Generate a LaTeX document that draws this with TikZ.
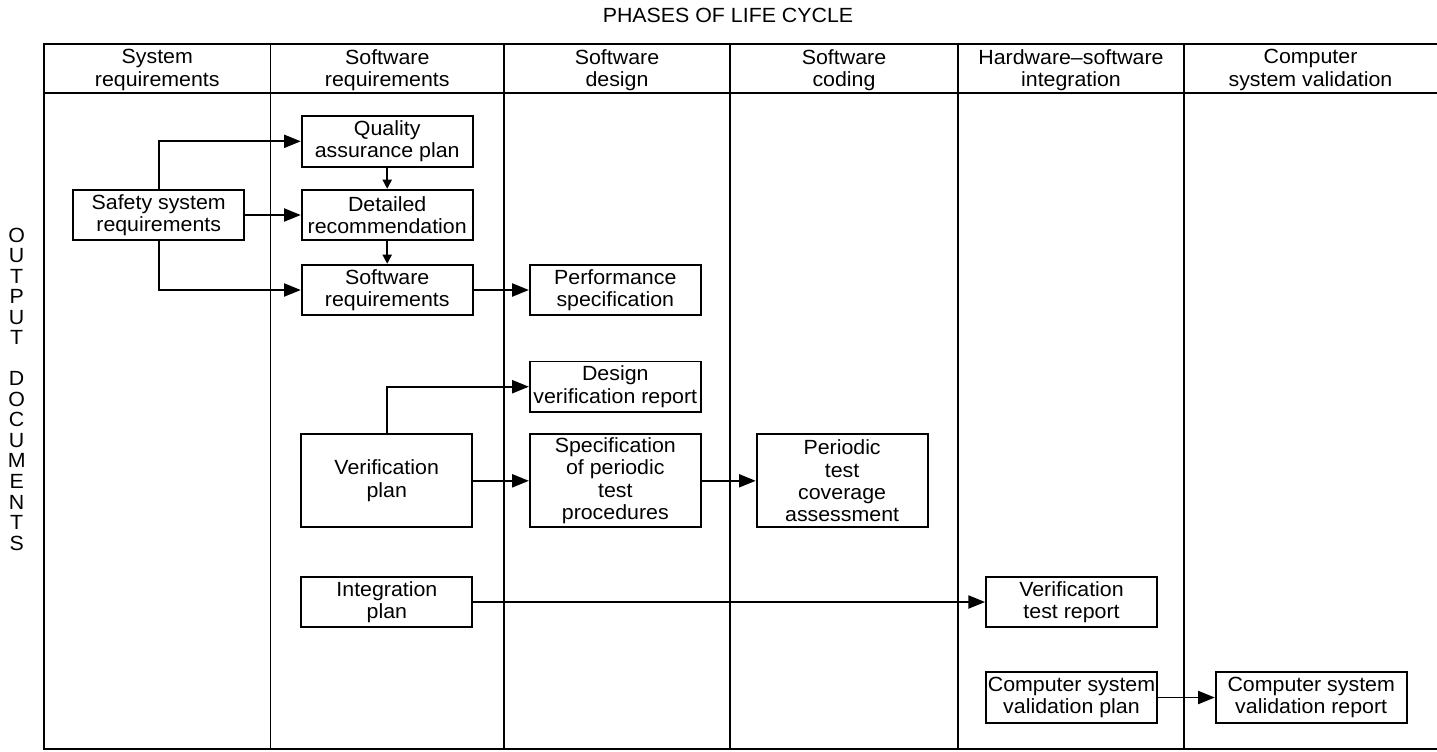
\documentclass[tikz,border=0pt]{standalone}
\usepackage{fontspec}
\setmainfont[FakeStretch=1.04]{Liberation Sans}
\usetikzlibrary{arrows.meta}
\begin{document}
\begin{tikzpicture}[x=0.75pt,y=-0.75pt,
  txt/.style={font={\fontsize{15.4pt}{16.7pt}\selectfont}, align=center, inner sep=0pt},
  headtxt/.style={txt},
  docbox/.style={txt, draw, line width=1.4pt, minimum width=128.25pt, minimum height=37.9pt},
  tallbox/.style={docbox, minimum height=69.75pt},
  widebox/.style={docbox, minimum width=143.25pt},
  grid/.style={line width=0.9pt},
  frame/.style={line width=1.5pt},
  flow/.style={line width=1.3pt, -{Triangle[length=12.5pt,width=9.8pt]}},
  drop/.style={line width=1.2pt, -{Triangle[length=6.8pt,width=6.8pt]}},
]
\useasboundingbox (0,0) rectangle (1437,751);

% title and side caption
\node[txt] (title) at (728,15) {PHASES OF LIFE CYCLE};
\node[txt, font={\fontsize{15.4pt}{15.4pt}\selectfont}] (side) at (16.7,389)
  {O\\U\\T\\P\\U\\T\\~\\D\\O\\C\\U\\M\\E\\N\\T\\S};

% table frame
\draw[frame] (1437,44) -- (44,44) -- (44,749.3) -- (1437,749.3);
\draw[frame] (44,93.3) -- (1437,93.3);
\foreach \cx in {270.5,504,730,958,1184}
  \draw[grid] (\cx,44) -- (\cx,749.3);

% column headings
\node[headtxt] (h1) at (157.3,70) {System\\requirements};
\node[headtxt] (h2) at (387.3,70) {Software\\requirements};
\node[headtxt] (h3) at (617,70) {Software\\design};
\node[headtxt] (h4) at (844,70) {Software\\coding};
\node[headtxt] (h5) at (1071,70) {Hardware--software\\integration};
\node[headtxt] (h6) at (1310.5,70) {Computer\\system validation};

% output documents
\node[docbox] (safety) at (158.7,215) {Safety system\\requirements};
\node[docbox] (qap) at (387.2,141.3) {Quality\\assurance plan};
\node[docbox] (detail) at (387.2,215) {Detailed\\recommendation};
\node[docbox] (swreq) at (387.2,290) {Software\\requirements};
\node[docbox] (perf) at (615.3,290) {Performance\\specification};
\node[docbox] (dvr) at (615.3,386.7) {Design\\verification report};
\node[tallbox] (vplan) at (386.7,480.8) {Verification\\plan};
\node[tallbox] (spec) at (615.3,480.8) {Specification\\of periodic\\test\\procedures};
\node[tallbox] (ptca) at (842.1,480.8) {Periodic\\test\\coverage\\assessment};
\node[docbox] (integ) at (386.9,602) {Integration\\plan};
\node[docbox] (vtr) at (1071.5,602) {Verification\\test report};
\node[docbox] (csvp) at (1071.5,697.5) {Computer system\\validation plan};
\node[widebox] (csvr) at (1311.2,697.5) {Computer system\\validation report};

% connectors
\draw[flow] (safety.north) |- (qap.west);
\draw[flow] (safety.east) -- (detail.west);
\draw[flow] (safety.south) |- (swreq.west);
\draw[drop] (qap.south) -- (detail.north);
\draw[drop] (detail.south) -- (swreq.north);
\draw[flow] (swreq.east) -- (perf.west);
\draw[flow] (vplan.north) |- (dvr.west);
\draw[flow] (vplan.east) -- (spec.west);
\draw[flow] (spec.east) -- (ptca.west);
\draw[flow] (integ.east) -- (vtr.west);
\draw[flow] (csvp.east) -- (csvr.west);
\end{tikzpicture}
\end{document}
